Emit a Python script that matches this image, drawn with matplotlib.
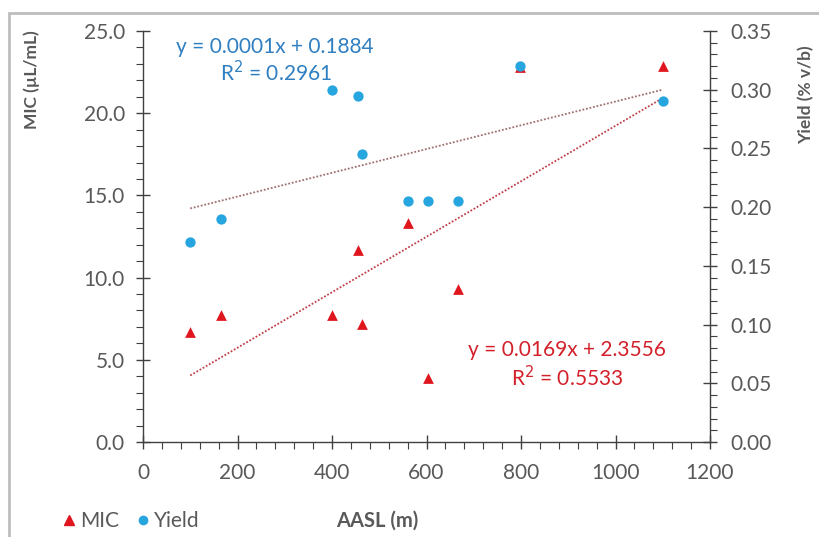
import numpy as np
import matplotlib
matplotlib.use("Agg")
from matplotlib import pyplot as plt
from matplotlib.ticker import MultipleLocator, FormatStrFormatter
from matplotlib.lines import Line2D
from matplotlib.patches import Rectangle

# values
aasl = [100, 165, 400, 455, 463, 560, 603, 667, 797, 1100]
mic = [6.7, 7.7, 7.7, 11.7, 7.2, 13.3, 3.9, 9.3, 22.8, 22.9]
yield_pct = [0.170, 0.190, 0.300, 0.295, 0.245, 0.205, 0.205, 0.205, 0.320, 0.290]

mic_eq = ["y = 0.0169x + 2.3556", "R$^2$ = 0.5533"]
yield_eq = ["y = 0.0001x + 0.1884", "R$^2$ = 0.2961"]

red = "#e0161f"
blue = "#27a5de"
red_txt = "#d3202a"
blue_txt = "#2f7fc1"
grey = "#595959"

plt.rcParams['font.family'] = ['Lato', 'DejaVu Sans']

fig = plt.figure(figsize=(8.19, 5.37), dpi=100)
ax = fig.add_axes([143 / 819, 95 / 537, 567 / 819, 411 / 537])
ax2 = ax.twinx()

# trendlines from the data
x_fit = np.array([min(aasl), max(aasl)])
m1, b1 = np.polyfit(aasl, mic, 1)
ax.plot(x_fit, m1 * x_fit + b1, ls=(0, (1, 1)), color="#c0404a", lw=1.3, zorder=2)
m2, b2 = np.polyfit(aasl, yield_pct, 1)
ax2.plot(x_fit, m2 * x_fit + b2, ls=(0, (1, 1)), color="#a07070", lw=1.3, zorder=2)

ax.scatter(aasl, mic, marker="^", s=60, color=red, zorder=3, linewidths=0)
ax2.scatter(aasl, yield_pct, marker="o", s=55, color=blue, zorder=3, linewidths=0)

ax.set_xlim(0, 1200)
ax.set_ylim(0, 25)
ax2.set_ylim(0, 0.35)

ax.xaxis.set_major_locator(MultipleLocator(200))
ax.xaxis.set_minor_locator(MultipleLocator(40))
ax.yaxis.set_major_locator(MultipleLocator(5))
ax.yaxis.set_minor_locator(MultipleLocator(1))
ax.yaxis.set_major_formatter(FormatStrFormatter("%.1f"))
ax2.yaxis.set_major_locator(MultipleLocator(0.05))
ax2.yaxis.set_minor_locator(MultipleLocator(0.01))
ax2.yaxis.set_major_formatter(FormatStrFormatter("%.2f"))

for a in (ax, ax2):
    a.spines["top"].set_visible(False)
    for s in a.spines.values():
        s.set_color("#404040")
        s.set_linewidth(1.0)
ax.spines["right"].set_visible(False)
ax2.spines["left"].set_visible(False)
ax2.spines["bottom"].set_visible(False)

ax.tick_params(axis="y", which="major", direction="inout", length=10, width=1.0,
               color="#404040", labelsize=15, labelcolor=grey, pad=8)
ax.tick_params(axis="x", which="major", direction="inout", length=10, width=1.0,
               color="#404040", labelsize=15, labelcolor=grey, pad=10)
ax.tick_params(axis="both", which="minor", direction="out", length=5, width=0.8, color="#404040")
ax2.tick_params(axis="y", which="major", direction="inout", length=10, width=1.0,
                color="#404040", labelsize=15, labelcolor=grey, pad=10)
ax2.tick_params(axis="y", which="minor", direction="out", length=5, width=0.8, color="#404040")

# axis titles, placed where the reference puts them
fig.text(32 / 819, 1 - 80 / 537, "MIC (µL/mL)", rotation=90, ha="center", va="center",
         fontsize=12.5, fontweight="bold", color=grey)
fig.text(806 / 819, 1 - 95 / 537, "Yield (% v/b)", rotation=90, ha="center", va="center",
         fontsize=12.5, fontweight="bold", color=grey)
fig.text(377 / 819, 1 - 521 / 537, "AASL (m)", ha="center", va="center",
         fontsize=14.5, fontweight="bold", color=grey)

# trendline equations
fig.text(275 / 819, 1 - 47 / 537, yield_eq[0], ha="center", va="center", fontsize=15, color=blue_txt)
fig.text(276 / 819, 1 - 73 / 537, yield_eq[1], ha="center", va="center", fontsize=15, color=blue_txt)
fig.text(567 / 819, 1 - 350 / 537, mic_eq[0], ha="center", va="center", fontsize=15, color=red_txt)
fig.text(567 / 819, 1 - 378 / 537, mic_eq[1], ha="center", va="center", fontsize=15, color=red_txt)

# legend at the bottom left
handles = [Line2D([], [], marker="^", ls="", color=red, markersize=7, label="MIC"),
           Line2D([], [], marker="o", ls="", color=blue, markersize=6, label="Yield")]
fig.legend(handles=handles, loc="center left", bbox_to_anchor=(40 / 819, 1 - 521 / 537),
           ncol=2, frameon=False, fontsize=15, handletextpad=0.05, columnspacing=0.6,
           handlelength=1.0, labelcolor=grey)

# outer frame of the chart area
fig.patches.append(Rectangle((9 / 819, -0.01), 1.0, 1 - 13 / 537 + 0.01, transform=fig.transFigure,
                             fill=False, edgecolor="#bdbdbd", linewidth=2))

fig.savefig("out.png", dpi=100)
